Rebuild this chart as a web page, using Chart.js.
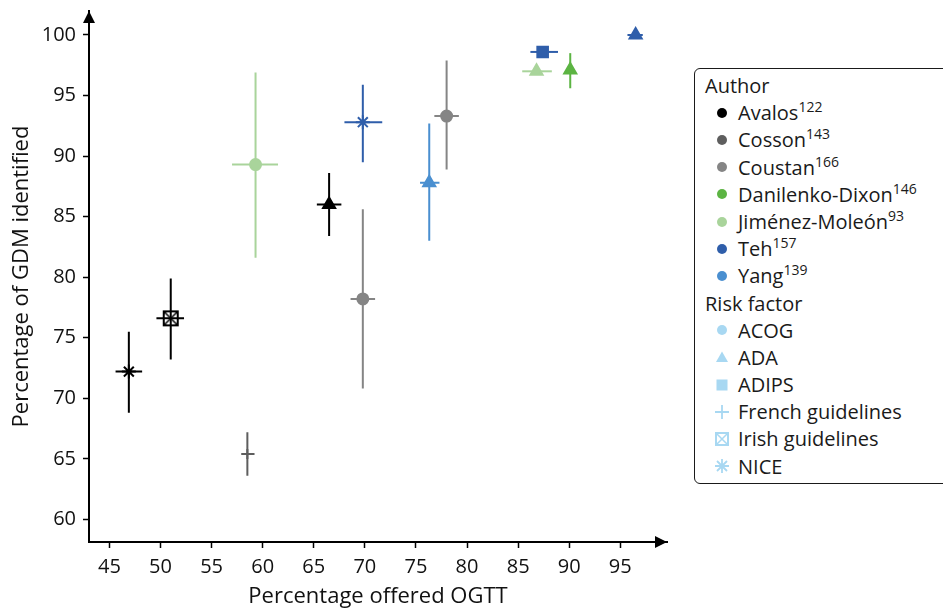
<!DOCTYPE html>
<html lang="en">
<head>
  <meta charset="UTF-8">
  <title>GDM identified vs OGTT offered</title>
  <script src="https://cdn.jsdelivr.net/npm/chart.js"></script>
  <style>
    body { margin: 0; background: #fff; }
    #wrap { position: relative; width: 943px; height: 610px; overflow: hidden; }
    #legend {
      position: absolute; left: 694px; top: 68px; width: 270px; height: 416px;
      border: 1.5px solid #1a1a1a; border-radius: 6px; box-sizing: border-box;
      font-family: 'Open Sans', sans-serif; font-size: 20px; color: #1a1a1a;
      padding-top: 3px; background: #fff;
    }
    #legend .row { height: 27.2px; line-height: 27.2px; display: flex; align-items: center; white-space: nowrap; }
    #legend .hdr { padding-left: 10px; }
    #legend .item { padding-left: 19px; }
    #legend .icon { width: 16px; height: 16px; margin-right: 8px; display: inline-block; }
    #legend sup { font-size: 14px; vertical-align: 8px; line-height: 0; }
  </style>
</head>
<body>
<div id="wrap">
  <canvas id="scatterChart" width="943" height="610"></canvas>
  <div id="legend"></div>
</div>
<script>
  // authors / study references
  const authors = ['Avalos', 'Cosson', 'Coustan', 'Danilenko-Dixon', 'Jiménez-Moleón', 'Teh', 'Yang'];
  const authorRefs = ['122', '143', '166', '146', '93', '157', '139'];
  const authorColors = ['#000000', '#5e5e5e', '#858585', '#5cb443', '#a9d49b', '#2f5eaa', '#4a8fd0'];

  // risk factor guidelines
  const riskFactors = ['ACOG', 'ADA', 'ADIPS', 'French guidelines', 'Irish guidelines', 'NICE'];
  const riskColor = '#a8d8f2';

  // one entry per study estimate
  const pointAuthor = [0, 0, 0, 1, 2, 2, 3, 4, 4, 5, 5, 5, 6];
  const pointRisk   = [5, 4, 1, 3, 0, 0, 1, 0, 1, 5, 2, 1, 1];
  const offeredPct  = [46.9, 51.0, 66.5, 58.5, 69.8, 78.0, 90.1, 59.3, 86.8, 69.8, 87.4, 96.5, 76.3];
  const offeredLo   = [45.6, 49.6, 65.3, 57.9, 68.6, 76.8, 90.1, 57.0, 85.4, 68.0, 86.2, 95.7, 75.4];
  const offeredHi   = [48.2, 52.3, 67.7, 59.2, 71.0, 79.2, 90.1, 61.5, 88.3, 71.7, 88.9, 97.2, 77.3];
  const identPct    = [72.2, 76.6, 86.0, 65.4, 78.2, 93.3, 97.1, 89.3, 97.0, 92.8, 98.6, 100.0, 87.8];
  const identLo     = [68.8, 73.2, 83.4, 63.6, 70.8, 88.9, 95.6, 81.6, 97.0, 89.5, 98.6, 100.0, 83.0];
  const identHi     = [75.5, 79.9, 88.6, 67.2, 85.6, 97.9, 98.5, 96.9, 97.0, 95.9, 98.6, 100.0, 92.7];

  const xTicks = [45, 50, 55, 60, 65, 70, 75, 80, 85, 90, 95];
  const yTicks = [60, 65, 70, 75, 80, 85, 90, 95, 100];

  const FONT = "'Open Sans', sans-serif";

  function irishIcon(color) {
    const c = document.createElement('canvas');
    c.width = 18; c.height = 18;
    const g = c.getContext('2d');
    g.strokeStyle = color;
    g.lineWidth = 2;
    g.strokeRect(2, 2, 14, 14);
    g.lineWidth = 1.5;
    g.beginPath();
    g.moveTo(3, 3); g.lineTo(15, 15);
    g.moveTo(15, 3); g.lineTo(3, 15);
    g.stroke();
    return c;
  }

  const styleFor = ['circle', 'triangle', 'rect', 'cross', null, 'star'];
  const radiusFor = [5.5, 7, 7.5, 5, 9, 7];

  // build one dataset per author
  const datasets = authors.map(function(name, a) {
    const idx = [];
    pointAuthor.forEach(function(v, i) { if (v === a) idx.push(i); });
    return {
      label: name,
      data: idx.map(function(i) { return { x: offeredPct[i], y: identPct[i] }; }),
      pointStyle: idx.map(function(i) {
        return pointRisk[i] === 4 ? irishIcon(authorColors[a]) : styleFor[pointRisk[i]];
      }),
      pointRadius: idx.map(function(i) { return radiusFor[pointRisk[i]]; }),
      pointHoverRadius: idx.map(function(i) { return radiusFor[pointRisk[i]]; }),
      backgroundColor: authorColors[a],
      borderColor: authorColors[a],
      borderWidth: 2
    };
  });

  const errorBars = {
    id: 'errorBars',
    beforeDatasetsDraw(chart) {
      const ctx = chart.ctx, xs = chart.scales.x, ys = chart.scales.y;
      ctx.save();
      ctx.lineWidth = 2;
      for (let i = 0; i < offeredPct.length; i++) {
        const col = authorColors[pointAuthor[i]];
        const px = xs.getPixelForValue(offeredPct[i]);
        const py = ys.getPixelForValue(identPct[i]);
        ctx.strokeStyle = col;
        ctx.beginPath();
        ctx.moveTo(px, ys.getPixelForValue(identLo[i]));
        ctx.lineTo(px, ys.getPixelForValue(identHi[i]));
        ctx.moveTo(xs.getPixelForValue(offeredLo[i]), py);
        ctx.lineTo(xs.getPixelForValue(offeredHi[i]), py);
        ctx.stroke();
      }
      ctx.restore();
    }
  };

  const axisArrows = {
    id: 'axisArrows',
    afterDraw(chart) {
      const ctx = chart.ctx, a = chart.chartArea;
      ctx.save();
      ctx.fillStyle = '#000';
      ctx.beginPath();
      ctx.moveTo(a.left, a.top);
      ctx.lineTo(a.left - 6, a.top + 12);
      ctx.lineTo(a.left + 6, a.top + 12);
      ctx.closePath();
      ctx.fill();
      ctx.beginPath();
      ctx.moveTo(a.right, a.bottom);
      ctx.lineTo(a.right - 12, a.bottom - 6);
      ctx.lineTo(a.right - 12, a.bottom + 6);
      ctx.closePath();
      ctx.fill();
      ctx.restore();
    }
  };

  const ctx = document.getElementById('scatterChart').getContext('2d');
  const chart = new Chart(ctx, {
    type: 'scatter',
    data: { datasets: datasets },
    plugins: [errorBars, axisArrows],
    options: {
      responsive: false,
      animation: false,
      layout: { padding: { top: 10, right: 276, left: 0, bottom: 0 } },
      plugins: { legend: { display: false }, tooltip: { enabled: false } },
      scales: {
        x: {
          type: 'linear', min: 43.0, max: 99.57,
          afterFit: function(s) { s.height = 68; s.paddingLeft = 0; s.paddingRight = 0; },
          afterBuildTicks: function(s) { s.ticks = xTicks.map(function(v) { return { value: v }; }); },
          grid: { drawOnChartArea: false, drawTicks: true, tickLength: 6, tickColor: '#000', tickWidth: 1.5 },
          border: { display: true, color: '#000', width: 2 },
          ticks: { color: '#111', font: { family: FONT, size: 20 }, padding: 7, maxRotation: 0, autoSkip: false },
          title: { display: true, text: 'Percentage offered OGTT', color: '#111', font: { family: FONT, size: 22 }, padding: { top: 0, bottom: 0 } }
        },
        y: {
          type: 'linear', min: 58.13, max: 101.98,
          afterFit: function(s) { s.width = 89; s.paddingTop = 0; s.paddingBottom = 0; },
          afterBuildTicks: function(s) { s.ticks = yTicks.map(function(v) { return { value: v }; }); },
          grid: { drawOnChartArea: false, drawTicks: true, tickLength: 6, tickColor: '#000', tickWidth: 1.5 },
          border: { display: true, color: '#000', width: 2 },
          ticks: { color: '#111', font: { family: FONT, size: 20 }, padding: 7, autoSkip: false },
          title: { display: true, text: 'Percentage of GDM identified', color: '#111', font: { family: FONT, size: 22 }, padding: { top: 9, bottom: 0 } }
        }
      }
    }
  });

  // legend
  function svgIcon(kind, color) {
    let body = '';
    if (kind === 0) body = '<circle cx="8" cy="8" r="5" fill="' + color + '"/>';
    if (kind === 1) body = '<polygon points="8,2.5 14,13 2,13" fill="' + color + '"/>';
    if (kind === 2) body = '<rect x="2.5" y="2.5" width="11" height="11" fill="' + color + '"/>';
    if (kind === 3) body = '<path d="M8 1V15M1 8H15" stroke="' + color + '" stroke-width="1.8"/>';
    if (kind === 4) body = '<rect x="2" y="2" width="12" height="12" fill="none" stroke="' + color + '" stroke-width="2"/>' +
      '<path d="M3 3L13 13M13 3L3 13" stroke="' + color + '" stroke-width="1.5"/>';
    if (kind === 5) body = '<path d="M8 1V15M1 8H15M3 3L13 13M13 3L3 13" stroke="' + color + '" stroke-width="1.8"/>';
    return '<svg class="icon" viewBox="0 0 16 16">' + body + '</svg>';
  }

  let html = '<div class="row hdr">Author</div>';
  authors.forEach(function(name, a) {
    html += '<div class="row item">' + svgIcon(0, authorColors[a]) + '<span>' + name + '<sup>' + authorRefs[a] + '</sup></span></div>';
  });
  html += '<div class="row hdr">Risk factor</div>';
  riskFactors.forEach(function(name, r) {
    html += '<div class="row item">' + svgIcon(r, riskColor) + '<span>' + name + '</span></div>';
  });
  document.getElementById('legend').innerHTML = html;
</script>
</body>
</html>
